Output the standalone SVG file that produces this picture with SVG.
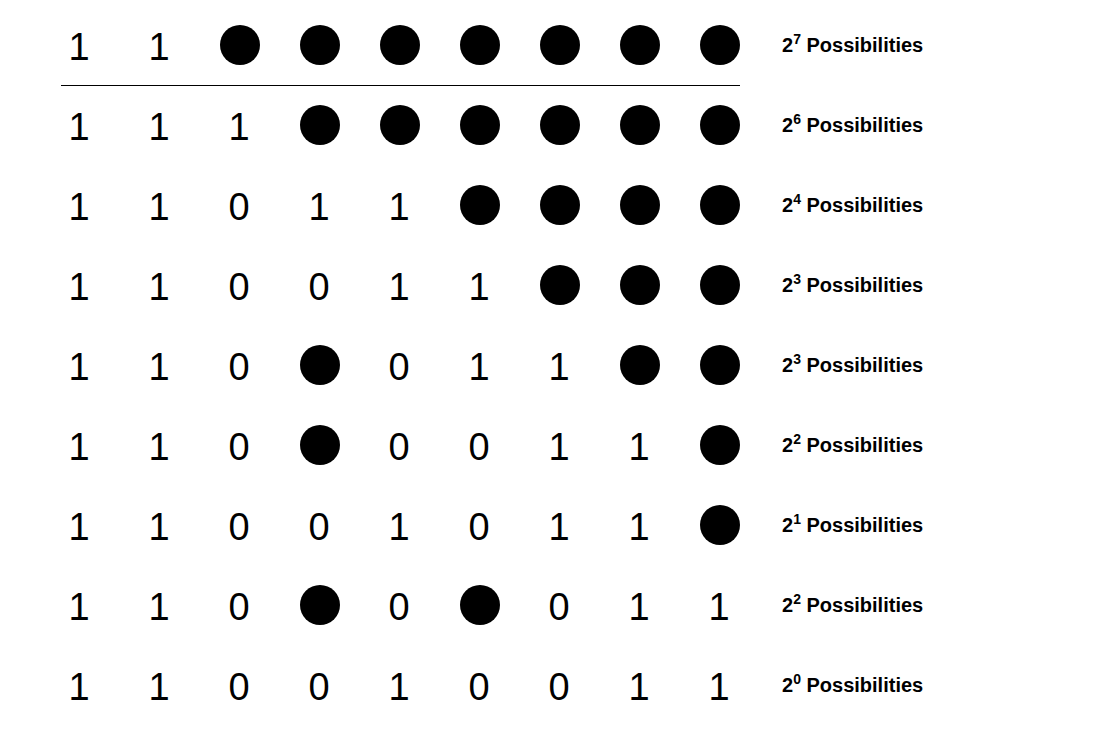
<svg xmlns="http://www.w3.org/2000/svg" width="1096" height="741" viewBox="0 0 1096 741">
<style>
.d{font-family:"Liberation Sans",Arial,Helvetica,sans-serif;font-size:38px;fill:#000;text-anchor:middle}
.l{font-family:"Liberation Sans",Arial,Helvetica,sans-serif;font-size:20px;font-weight:bold;fill:#000}
.s{font-size:14px}
.c{fill:#000}
</style>
<rect width="1096" height="741" fill="#fff"/>
<g id="connectors">
<line x1="61" y1="85.5" x2="740" y2="85.5" stroke="#000" stroke-width="1"/>
</g>
<g id="row0">
<text class="d" x="79" y="60">1</text><text class="d" x="159" y="60">1</text>
<circle class="c" cx="240" cy="45" r="20"/><circle class="c" cx="320" cy="45" r="20"/><circle class="c" cx="400" cy="45" r="20"/><circle class="c" cx="480" cy="45" r="20"/><circle class="c" cx="560" cy="45" r="20"/><circle class="c" cx="640" cy="45" r="20"/><circle class="c" cx="720" cy="45" r="20"/>
<text class="l" x="782" y="52">2<tspan class="s" dy="-8">7</tspan><tspan dy="8"> Possibilities</tspan></text>
</g>
<g id="row1">
<text class="d" x="79" y="140">1</text><text class="d" x="159" y="140">1</text><text class="d" x="239" y="140">1</text>
<circle class="c" cx="320" cy="125" r="20"/><circle class="c" cx="400" cy="125" r="20"/><circle class="c" cx="480" cy="125" r="20"/><circle class="c" cx="560" cy="125" r="20"/><circle class="c" cx="640" cy="125" r="20"/><circle class="c" cx="720" cy="125" r="20"/>
<text class="l" x="782" y="132">2<tspan class="s" dy="-8">6</tspan><tspan dy="8"> Possibilities</tspan></text>
</g>
<g id="row2">
<text class="d" x="79" y="220">1</text><text class="d" x="159" y="220">1</text><text class="d" x="239" y="220">0</text><text class="d" x="319" y="220">1</text><text class="d" x="399" y="220">1</text>
<circle class="c" cx="480" cy="205" r="20"/><circle class="c" cx="560" cy="205" r="20"/><circle class="c" cx="640" cy="205" r="20"/><circle class="c" cx="720" cy="205" r="20"/>
<text class="l" x="782" y="212">2<tspan class="s" dy="-8">4</tspan><tspan dy="8"> Possibilities</tspan></text>
</g>
<g id="row3">
<text class="d" x="79" y="300">1</text><text class="d" x="159" y="300">1</text><text class="d" x="239" y="300">0</text><text class="d" x="319" y="300">0</text><text class="d" x="399" y="300">1</text><text class="d" x="479" y="300">1</text>
<circle class="c" cx="560" cy="285" r="20"/><circle class="c" cx="640" cy="285" r="20"/><circle class="c" cx="720" cy="285" r="20"/>
<text class="l" x="782" y="292">2<tspan class="s" dy="-8">3</tspan><tspan dy="8"> Possibilities</tspan></text>
</g>
<g id="row4">
<text class="d" x="79" y="380">1</text><text class="d" x="159" y="380">1</text><text class="d" x="239" y="380">0</text>
<circle class="c" cx="320" cy="365" r="20"/>
<text class="d" x="399" y="380">0</text><text class="d" x="479" y="380">1</text><text class="d" x="559" y="380">1</text>
<circle class="c" cx="640" cy="365" r="20"/><circle class="c" cx="720" cy="365" r="20"/>
<text class="l" x="782" y="372">2<tspan class="s" dy="-8">3</tspan><tspan dy="8"> Possibilities</tspan></text>
</g>
<g id="row5">
<text class="d" x="79" y="460">1</text><text class="d" x="159" y="460">1</text><text class="d" x="239" y="460">0</text>
<circle class="c" cx="320" cy="445" r="20"/>
<text class="d" x="399" y="460">0</text><text class="d" x="479" y="460">0</text><text class="d" x="559" y="460">1</text><text class="d" x="639" y="460">1</text>
<circle class="c" cx="720" cy="445" r="20"/>
<text class="l" x="782" y="452">2<tspan class="s" dy="-8">2</tspan><tspan dy="8"> Possibilities</tspan></text>
</g>
<g id="row6">
<text class="d" x="79" y="540">1</text><text class="d" x="159" y="540">1</text><text class="d" x="239" y="540">0</text><text class="d" x="319" y="540">0</text><text class="d" x="399" y="540">1</text><text class="d" x="479" y="540">0</text><text class="d" x="559" y="540">1</text><text class="d" x="639" y="540">1</text>
<circle class="c" cx="720" cy="525" r="20"/>
<text class="l" x="782" y="532">2<tspan class="s" dy="-8">1</tspan><tspan dy="8"> Possibilities</tspan></text>
</g>
<g id="row7">
<text class="d" x="79" y="620">1</text><text class="d" x="159" y="620">1</text><text class="d" x="239" y="620">0</text>
<circle class="c" cx="320" cy="605" r="20"/>
<text class="d" x="399" y="620">0</text>
<circle class="c" cx="480" cy="605" r="20"/>
<text class="d" x="559" y="620">0</text><text class="d" x="639" y="620">1</text><text class="d" x="719" y="620">1</text>
<text class="l" x="782" y="612">2<tspan class="s" dy="-8">2</tspan><tspan dy="8"> Possibilities</tspan></text>
</g>
<g id="row8">
<text class="d" x="79" y="700">1</text><text class="d" x="159" y="700">1</text><text class="d" x="239" y="700">0</text><text class="d" x="319" y="700">0</text><text class="d" x="399" y="700">1</text><text class="d" x="479" y="700">0</text><text class="d" x="559" y="700">0</text><text class="d" x="639" y="700">1</text><text class="d" x="719" y="700">1</text>
<text class="l" x="782" y="692">2<tspan class="s" dy="-8">0</tspan><tspan dy="8"> Possibilities</tspan></text>
</g>
</svg>
